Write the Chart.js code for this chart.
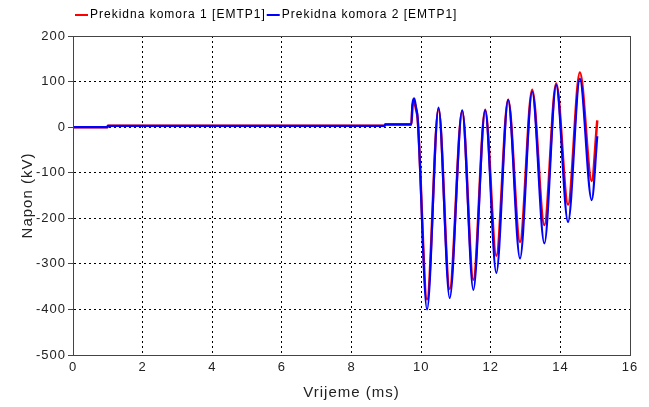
<!DOCTYPE html>
<html>
<head>
<meta charset="utf-8">
<script src="https://cdn.jsdelivr.net/npm/chart.js@4.4.1/dist/chart.umd.min.js"></script>
<style>
  html, body { margin: 0; padding: 0; background: #fff; }
  #wrap { width: 649px; height: 407px; position: relative; }
</style>
</head>
<body>
<div id="wrap"><canvas id="c" width="649" height="407"></canvas></div>
<script>
// Time samples (ms) for both switching-chamber voltages
const timeMs = [0, 0.99, 1.0, 8.95, 8.97, 9.72, 9.75, 9.8, 9.85, 9.9,
  10.17, 10.5, 10.82, 11.18, 11.5, 11.84, 12.16, 12.5, 12.84, 13.19,
  13.54, 13.88, 14.22, 14.56, 14.9, 15.06];

// Voltage across chamber 1 (kV)
const komora1 = [0, 0, 3, 3, 6, 6, 45, 55, 40, 18,
  -378, 40, -355, 36, -335, 38, -282, 60, -252, 82,
  -215, 96, -170, 120, -118, 15];

// Voltage across chamber 2 (kV)
const komora2 = [0, 0, 3, 3, 6, 6, 50, 63, 45, 20,
  -400, 43, -375, 37, -357, 37, -320, 60, -288, 78,
  -255, 92, -208, 106, -160, -20];

const seriesNames = ['Prekidna komora 1 [EMTP1]', 'Prekidna komora 2 [EMTP1]'];
const seriesColors = ['#ff0000', '#0000ff'];
const xTicks = [0, 2, 4, 6, 8, 10, 12, 14, 16];
const yTicks = [-500, -400, -300, -200, -100, 0, 100, 200];

const toPoints = (vals) => timeMs.map((t, i) => ({ x: t, y: vals[i] }));

const FONT = "'Liberation Sans', Arial, sans-serif";
const SPACING = '1px';

// Slightly wider letter spacing for all canvas text
const textSpacing = {
  id: 'textSpacing',
  beforeInit(chart) { chart.ctx.letterSpacing = SPACING; },
  beforeUpdate(chart) { chart.ctx.letterSpacing = SPACING; },
  beforeDraw(chart) { chart.ctx.letterSpacing = SPACING; }
};

// Legend row across the top and a frame round the plot area
const frameAndLegend = {
  id: 'frameAndLegend',
  afterDraw(chart) {
    const { ctx, chartArea: a } = chart;
    ctx.save();
    ctx.letterSpacing = SPACING;
    ctx.strokeStyle = '#444';
    ctx.lineWidth = 1;
    ctx.strokeRect(Math.round(a.left) + 0.5, Math.round(a.top) + 0.5,
      Math.round(a.right - a.left), Math.round(a.bottom - a.top));

    ctx.font = '12px ' + FONT;
    ctx.textBaseline = 'middle';
    let x = 75;
    const y = 15;
    seriesNames.forEach((name, i) => {
      ctx.strokeStyle = seriesColors[i];
      ctx.lineWidth = 2;
      ctx.beginPath();
      ctx.moveTo(x, y);
      ctx.lineTo(x + 13, y);
      ctx.stroke();
      x += 15;
      ctx.fillStyle = '#000';
      ctx.fillText(name, x, y);
      x += ctx.measureText(name).width + 1;
    });
    ctx.restore();
  }
};

new Chart(document.getElementById('c'), {
  type: 'line',
  data: {
    datasets: [
      {
        label: seriesNames[0],
        data: toPoints(komora1),
        borderColor: seriesColors[0],
        borderWidth: 2.5,
        pointRadius: 0,
        cubicInterpolationMode: 'monotone',
        order: 1
      },
      {
        label: seriesNames[1],
        data: toPoints(komora2),
        borderColor: seriesColors[1],
        borderWidth: 2.2,
        pointRadius: 0,
        cubicInterpolationMode: 'monotone',
        order: 0
      }
    ]
  },
  options: {
    responsive: false,
    animation: false,
    layout: { padding: { top: 36, right: 19, bottom: 0, left: 0 } },
    plugins: {
      legend: { display: false },
      tooltip: { enabled: false }
    },
    scales: {
      x: {
        type: 'linear',
        min: 0,
        max: 16,
        afterBuildTicks(scale) { scale.ticks = xTicks.map(v => ({ value: v })); },
        afterFit(scale) { scale.height = 52; },
        grid: { color: '#000', lineWidth: 1, drawTicks: false },
        border: { display: true, color: '#444', width: 1, dash: [2, 3] },
        ticks: {
          color: '#222',
          padding: 5,
          font: { family: FONT, size: 13 },
          maxRotation: 0
        },
        title: {
          display: true,
          text: 'Vrijeme (ms)',
          color: '#222',
          font: { family: FONT, size: 15 },
          padding: { top: 0, bottom: 5 }
        }
      },
      y: {
        min: -500,
        max: 200,
        afterBuildTicks(scale) { scale.ticks = yTicks.map(v => ({ value: v })); },
        afterFit(scale) { scale.width = 73; },
        grid: { color: '#000', lineWidth: 1, drawTicks: true, tickLength: 5, tickColor: '#444', tickBorderDash: [] },
        border: { display: true, color: '#444', width: 1, dash: [2, 3] },
        ticks: {
          color: '#222',
          padding: 2,
          font: { family: FONT, size: 13 }
        },
        title: {
          display: true,
          text: 'Napon (kV)',
          color: '#222',
          font: { family: FONT, size: 15 },
          padding: { top: 19, bottom: 0 }
        }
      }
    }
  },
  plugins: [textSpacing, frameAndLegend]
});
</script>
</body>
</html>
